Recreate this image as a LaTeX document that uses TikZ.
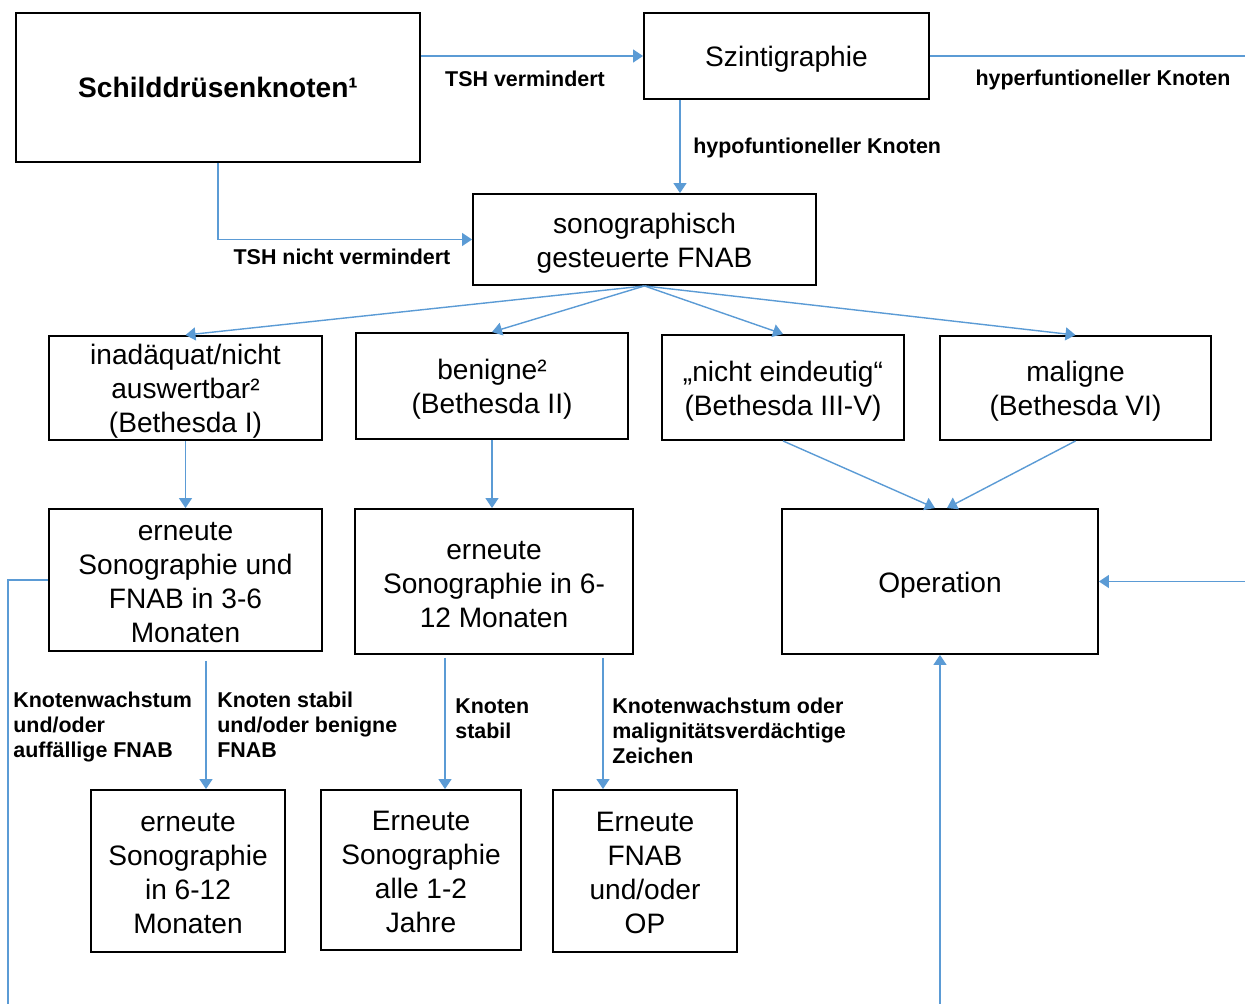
\documentclass[tikz,border=0pt]{standalone}
\usepackage{fontspec}
\setmainfont{Liberation Sans}
\usetikzlibrary{arrows.meta,calc}
\definecolor{pfeilblau}{HTML}{5B9BD5}
\newcommand{\zs}[1][15.5pt]{\rule{0pt}{#1}}

\begin{document}
\begin{tikzpicture}[x=0.02cm,y=-0.02cm,
  kasten/.style={draw=black,line width=1.1pt,rectangle,inner sep=0pt,align=center,
    font=\fontsize{16}{19.4}\selectfont},
  linie/.style={draw=pfeilblau,line width=0.8pt},
  pfeil/.style={linie,-{Triangle[length=0.2cm,width=0.26cm]}},
  marke/.style={inner sep=0pt,align=left,font=\fontsize{12.2}{14.2}\selectfont\bfseries}]
\useasboundingbox (0,0) rectangle (1245,1004);

% Kaesten
\node[kasten,minimum width=8.08cm,minimum height=2.98cm,font=\fontsize{16}{19.4}\selectfont\bfseries]
  (schild) at (218,87.5) {Schilddrüsenknoten¹};
\node[kasten,minimum width=5.70cm,minimum height=1.72cm] (szint) at (786.5,56) {\zs Szintigraphie};
\node[kasten,minimum width=6.86cm,minimum height=1.82cm] (fnab) at (644.5,239.5) {\zs sonographisch\\gesteuerte FNAB};
\node[kasten,minimum width=5.46cm,minimum height=2.08cm] (inad) at (185.5,388) {\zs inadäquat/nicht\\auswertbar²\\(Bethesda I)};
\node[kasten,minimum width=5.44cm,minimum height=2.12cm] (benigne) at (492,386) {\zs benigne²\\(Bethesda II)};
\node[kasten,minimum width=4.84cm,minimum height=2.10cm] (unklar) at (783,387.5) {\zs „nicht eindeutig“\\(Bethesda III-V)};
\node[kasten,minimum width=5.42cm,minimum height=2.08cm] (maligne) at (1075.5,388) {\zs maligne\\(Bethesda VI)};
\node[kasten,minimum width=5.46cm,minimum height=2.84cm] (kontrA) at (185.5,580) {\zs[13.5pt]erneute\\Sonographie und\\FNAB in 3-6\\Monaten};
\node[kasten,minimum width=5.56cm,minimum height=2.90cm] (kontrB) at (494,581.5) {\zs[13.5pt]erneute\\Sonographie in 6-\\12 Monaten};
\node[kasten,minimum width=6.32cm,minimum height=2.90cm] (op) at (940,581.5) {\zs Operation};
\node[kasten,minimum width=3.88cm,minimum height=3.24cm] (sonoA) at (188,871) {\zs[13.5pt]erneute\\Sonographie\\in 6-12\\Monaten};
\node[kasten,minimum width=4.00cm,minimum height=3.20cm] (sonoB) at (421,870) {\zs[13.5pt]Erneute\\Sonographie\\alle 1-2\\Jahre};
\node[kasten,minimum width=3.68cm,minimum height=3.24cm] (fnabop) at (645,871) {\zs[13.5pt]Erneute\\FNAB\\und/oder\\OP};

% freie Enden am Rand
\coordinate (rechtsoben) at (1245,56);
\coordinate (rechtsop) at (1245,581.5);
\coordinate (linksunten) at (8,1004);
\coordinate (untenop) at (940,1004);

% Verbindungen
\draw[pfeil] (szint.west -| schild.east) -- (szint.west);
\draw[pfeil] (schild.south) |- (fnab.west);
\draw[pfeil] ([xshift=0.71cm]fnab.north |- szint.south) -- ([xshift=0.71cm]fnab.north);
\draw[linie] (szint.east) -- (rechtsoben);
\draw[pfeil] (rechtsop) -- (op.east);
\foreach \n in {inad,benigne,unklar,maligne}
  \draw[pfeil] (fnab.south) -- (\n.north);
\draw[pfeil] (inad.south) -- (kontrA.north);
\draw[pfeil] (benigne.south) -- (benigne.south |- kontrB.north);
\draw[pfeil] (unklar.south) -- ([xshift=-0.1cm]op.north);
\draw[pfeil] (maligne.south) -- ([xshift=0.14cm]op.north);
\draw[linie] (kontrA.west) -| (linksunten);
\draw[pfeil] (untenop) -- (op.south);
\draw[pfeil] ([xshift=0.41cm,yshift=-0.18cm]kontrA.south) -- ([xshift=0.41cm]kontrA.south |- sonoA.north);
\draw[pfeil] ([xshift=-0.98cm,yshift=-0.06cm]kontrB.south) -- ([xshift=-0.98cm]kontrB.south |- sonoB.north);
\draw[pfeil] ([xshift=2.18cm,yshift=-0.06cm]kontrB.south) -- ([xshift=2.18cm]kontrB.south |- fnabop.north);

% Beschriftungen
\node[marke] (tshja) at (525,79) {TSH vermindert};
\node[marke] (tshnein) at (342,257) {TSH nicht vermindert};
\node[marke,anchor=west] (hypo) at (693,148) {hypofuntioneller Knoten};
\node[marke] (hyper) at (1103,80) {hyperfuntioneller Knoten};
\node[marke,anchor=west] (wachsA) at (13,727) {Knotenwachstum\\und/oder\\auffällige FNAB};
\node[marke,anchor=west] (stabilA) at (217,725) {Knoten stabil\\und/oder benigne\\FNAB};
\node[marke,anchor=west] (stabilB) at (455,719) {Knoten\\stabil};
\node[marke,anchor=west] (wachsB) at (612,731) {Knotenwachstum oder\\malignitätsverdächtige\\Zeichen};
\end{tikzpicture}
\end{document}
